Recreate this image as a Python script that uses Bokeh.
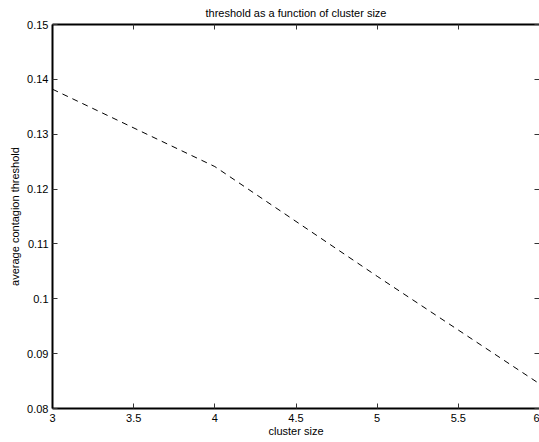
from bokeh.plotting import figure
from bokeh.models import LinearAxis, FixedTicker, CustomJSTickFormatter, Range1d
from bokeh.embed import file_html
from bokeh.resources import INLINE

cluster_size = [3, 4, 5, 6]
threshold = [0.1382, 0.1241, 0.1041, 0.0845]
x_ticks = [3, 3.5, 4, 4.5, 5, 5.5, 6]
y_ticks = [0.08, 0.09, 0.1, 0.11, 0.12, 0.13, 0.14, 0.15]

FONT = "Liberation Sans"
fmt = CustomJSTickFormatter(code="return Number(tick.toFixed(3)).toString();")
blank = CustomJSTickFormatter(code="return '';")

p = figure(width=539, height=442, output_backend="svg", toolbar_location=None,
           x_range=Range1d(3, 6), y_range=Range1d(0.08, 0.15),
           title="threshold as a function of cluster size",
           min_border_left=52, min_border_right=0, min_border_top=24, min_border_bottom=34)
p.title.align = "center"
p.title.vertical_align = "top"
p.title.text_font = FONT
p.title.text_font_size = "11px"
p.title.text_font_style = "normal"
p.title.text_color = "black"
p.title.offset = 0
p.title.standoff = 8

p.grid.visible = False
p.outline_line_color = None
p.background_fill_color = "white"
p.border_fill_color = "white"

p.line(cluster_size, threshold, line_color="black", line_width=1, line_dash="6 5")

def style(ax, labels=True):
    ax.axis_line_color = "black"
    ax.axis_line_width = 2
    ax.major_tick_line_color = "#333333"
    ax.major_tick_in = 5
    ax.major_tick_out = 0
    ax.minor_tick_line_color = None
    ax.major_label_text_font = FONT
    ax.major_label_text_font_size = "11px"
    ax.major_label_text_color = "black"
    if labels:
        ax.formatter = fmt
        ax.axis_label_text_font = FONT
        ax.axis_label_text_font_size = "11px"
        ax.axis_label_text_font_style = "normal"
        ax.axis_label_text_color = "black"
    else:
        ax.formatter = blank
        ax.major_label_standoff = 0

xa = p.xaxis[0]
xa.ticker = FixedTicker(ticks=x_ticks)
xa.axis_label = "cluster size"
style(xa)
xa.major_label_standoff = 5
xa.axis_label_standoff = 0

ya = p.yaxis[0]
ya.ticker = FixedTicker(ticks=y_ticks)
ya.axis_label = "average contagion threshold"
style(ya)
ya.major_label_standoff = 4
ya.axis_label_standoff = 3

top = LinearAxis(ticker=FixedTicker(ticks=x_ticks))
style(top, labels=False)
p.add_layout(top, "above")

right = LinearAxis(ticker=FixedTicker(ticks=y_ticks))
style(right, labels=False)
right.axis_line_color = None
p.add_layout(right, "right")

open("out.html", "w").write(file_html(p, INLINE))
